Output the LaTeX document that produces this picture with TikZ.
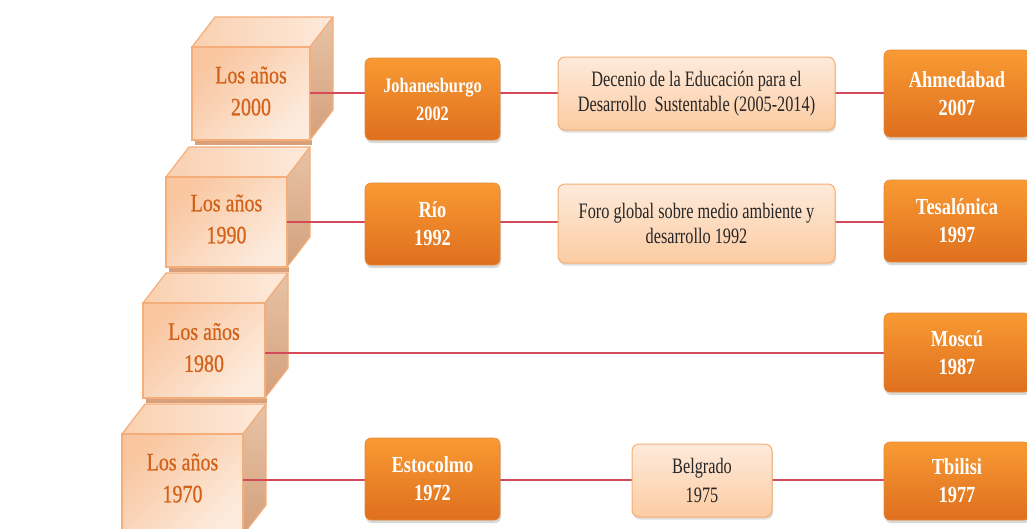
\documentclass[tikz,border=0pt]{standalone}
\usepackage{fontspec}
\setmainfont{Liberation Serif}[FakeStretch=0.82]
\newfontfamily\boxfont{Liberation Serif}[FakeStretch=0.8]
\newfontfamily\lightfont{Liberation Serif}[FakeStretch=0.74]
\newfontfamily\cubefont{Liberation Serif}[FakeStretch=0.8,FakeBold=0.6]
\usetikzlibrary{shadows}
\definecolor{orTop}{HTML}{F99A33}
\definecolor{orBot}{HTML}{DE6F1E}
\definecolor{orEdge}{HTML}{E08A3A}
\definecolor{ltTop}{HTML}{FEEADB}
\definecolor{ltBot}{HTML}{FCCCA2}
\definecolor{ltEdge}{HTML}{F5AE72}
\definecolor{cubeL}{HTML}{FDEBDD}
\definecolor{cubeD}{HTML}{F9C6A0}
\definecolor{cubeEdge}{HTML}{F5AD7A}
\definecolor{topL}{HTML}{FDEADB}
\definecolor{topD}{HTML}{FAD0B0}
\definecolor{sideL}{HTML}{E8C3A6}
\definecolor{sideD}{HTML}{D3A07C}
\definecolor{cubeShadow}{HTML}{D9A07A}
\definecolor{cubeText}{HTML}{D2621A}
\definecolor{linkRed}{HTML}{D44A58}
\newcommand\drawcube[4]{%
  \fill[cubeShadow] (#1+3,#4) rectangle (#3+2,#4+5);
  \draw[topface] (#1,#2) -- (#1+23,#2-30) -- (#3+23,#2-30) -- (#3,#2) -- cycle;
  \draw[sideface] (#3,#2) -- (#3+23,#2-30) -- (#3+23,#4-30) -- (#3,#4) -- cycle;
  \draw[frontface] (#1,#2) rectangle (#3,#4);
}
\begin{document}
\begin{tikzpicture}[x=1pt,y=-1pt,
  topface/.style={draw=cubeEdge, line width=1.2pt, line join=round, shading=axis, left color=topD, right color=topL},
  sideface/.style={draw=cubeEdge, line width=1.2pt, line join=round, shading=axis, top color=sideL, bottom color=sideD},
  frontface/.style={draw=cubeEdge, line width=1.5pt, shading=axis, bottom color=cubeD, top color=cubeL, shading angle=225},
  cubetext/.style={text=cubeText, align=center, font=\cubefont\fontsize{25}{32}\selectfont, inner sep=0pt},
  orangebox/.style={rounded corners=6pt, draw=orEdge, line width=0.6pt, top color=orTop, bottom color=orBot,
    text=white, font=\boxfont\bfseries\fontsize{23}{28}\selectfont, align=center, inner sep=0pt,
    drop shadow={opacity=0.3, shadow xshift=1pt, shadow yshift=-3pt}},
  lightbox/.style={rounded corners=7pt, draw=ltEdge, line width=1pt, top color=ltTop, bottom color=ltBot,
    text=black!85, font=\lightfont\fontsize{22}{25}\selectfont, align=center, inner sep=0pt,
    drop shadow={opacity=0.25, shadow xshift=1pt, shadow yshift=-2.5pt}},
  link/.style={draw=linkRed, line width=1.3pt}
]
\useasboundingbox (0,0) rectangle (1027,528);
\clip (0,0) rectangle (1027,528);
\fill[white] (0,0) rectangle (1027,528);

% cubes (bottom first)
\drawcube{122}{434}{243}{535}
\drawcube{143}{303}{265}{398}
\drawcube{166}{177}{287}{267}
\drawcube{192}{47}{310}{140}

\node[cubetext] (y2000) at (251,91) {Los años\\2000};
\node[cubetext] (y1990) at (226.5,219) {Los años\\1990};
\node[cubetext] (y1980) at (204,347.5) {Los años\\1980};
\node[cubetext] (y1970) at (182.5,478) {Los años\\1970};

\coordinate (c2000) at (310,93);
\coordinate (c1990) at (287,222);
\coordinate (c1980) at (265,353);
\coordinate (c1970) at (243,480);

% right column (positions)
\coordinate (r1) at (957,93.5);
\coordinate (r2) at (957,221);
\coordinate (r3) at (957,352.5);
\coordinate (r4) at (957,481);

\draw[link] (c2000) -- (c2000 -| r1);
\draw[link] (c1990) -- (c1990 -| r2);
\draw[link] (c1980) -- (c1980 -| r3);
\draw[link] (c1970) -- (c1970 -| r4);

% row 2000
\node[orangebox, minimum width=135pt, minimum height=82pt, font=\boxfont\bfseries\fontsize{20.5}{28}\selectfont] (jo) at (432.5,99) {Johanesburgo\\2002};
\node[lightbox, minimum width=277pt, minimum height=73pt] (dec) at (696.5,93.5) {Decenio de la Educación para el\\Desarrollo\ \ Sustentable (2005-2014)};
\node[orangebox, minimum width=146pt, minimum height=87pt] (ahm) at (r1) {Ahmedabad\\2007};

% row 1990
\node[orangebox, minimum width=135pt, minimum height=82pt] (rio) at (432.5,224) {Río\\1992};
\node[lightbox, minimum width=277pt, minimum height=79pt] (foro) at (696.5,223.5) {Foro global sobre medio ambiente y\\desarrollo 1992};
\node[orangebox, minimum width=146pt, minimum height=82pt] (tes) at (r2) {Tesalónica\\1997};

% row 1980
\node[orangebox, minimum width=146pt, minimum height=79pt] (mos) at (r3) {Moscú\\1987};

% row 1970
\node[orangebox, minimum width=135pt, minimum height=82pt] (est) at (432.5,479) {Estocolmo\\1972};
\node[lightbox, minimum width=140pt, minimum height=73pt, font=\lightfont\fontsize{22}{29}\selectfont] (bel) at (702,480.5) {Belgrado\\1975};
\node[orangebox, minimum width=146pt, minimum height=78pt] (tbi) at (r4) {Tbilisi\\1977};
\end{tikzpicture}
\end{document}
